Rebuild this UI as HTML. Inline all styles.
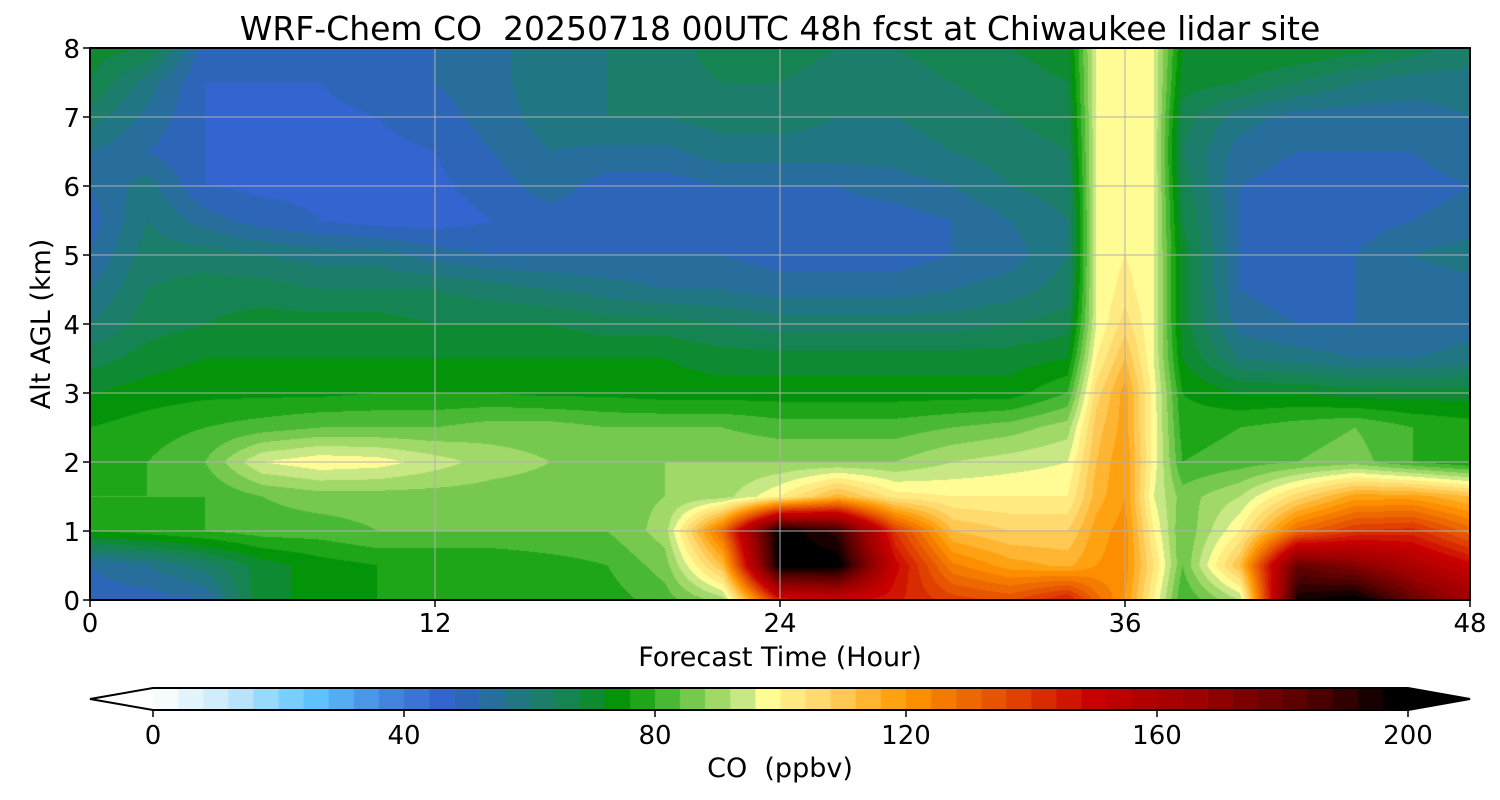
<!DOCTYPE html>
<html><head><meta charset="utf-8"><style>
body{margin:0;background:#fff;width:1500px;height:800px;overflow:hidden;font-family:"DejaVu Sans",sans-serif}
#wrap{position:relative;width:1500px;height:800px}
canvas,svg{position:absolute;left:0;top:0}
svg text{white-space:pre}
</style></head><body>
<div id="wrap">
<canvas id="cv" width="1500" height="800"></canvas>
<svg id="sv" width="1500" height="800" font-family="DejaVu Sans, sans-serif"></svg>
</div>
<script>
// ---- data ----
const times = [0,2,4,6,8,10,12,14,16,18,20,22,24,26,28,30,32,34,35,36,37,38,40,42,44,46,48];
const alts = [0,0.5,1,1.5,2,2.5,3,3.5,4,4.5,5,5.5,6,6.5,7,7.5,8];
const co_0_0 = [50,50,52,72,72,76,76,76,76,78,82,90,145,150,145,138,135,145,130,120,100,80,92,195,200,180,165];
const co_0_5 = [52,56,62,70,74,76,76,76,78,80,86,112,200,200,150,125,118,115,120,122,104,84,112,180,172,160,150];
const co_1_0 = [76,78,80,82,82,84,84,84,84,84,90,130,200,190,140,112,108,108,118,122,100,84,100,130,140,142,130];
const co_1_5 = [80,80,80,84,86,86,86,86,86,86,88,90,100,114,102,100,100,100,114,120,96,86,92,106,118,118,112];
const co_2_0 = [78,80,84,96,99,98,94,90,88,88,88,88,88,88,88,92,94,96,112,120,98,80,82,84,86,80,76];
const co_2_5 = [76,78,80,82,84,84,84,86,86,84,84,84,82,82,82,84,86,90,110,118,98,78,80,82,84,80,78];
const co_3_0 = [72,74,75,75,75,76,76,76,75,75,74,74,74,74,74,74,74,80,106,118,98,76,72,72,70,70,70];
const co_3_5 = [66,70,72,72,72,72,72,72,72,72,72,70,70,70,70,70,70,72,100,112,96,72,60,58,56,56,58];
const co_4_0 = [60,66,68,70,70,70,68,68,68,66,66,64,62,62,62,62,64,66,96,106,96,70,54,52,52,52,54];
const co_4_5 = [56,64,66,66,64,64,64,62,60,58,56,56,54,54,54,56,58,62,96,102,96,70,52,50,52,54,54];
const co_5_0 = [52,62,62,60,58,58,54,52,52,52,52,52,50,50,50,52,54,60,96,100,96,70,52,50,52,56,58];
const co_5_5 = [50,60,54,50,48,46,46,48,50,50,50,50,50,50,50,52,56,60,96,100,96,68,52,50,50,52,54];
const co_6_0 = [52,58,48,47,47,46,47,50,54,50,50,52,52,52,54,56,60,62,96,100,96,66,52,50,50,50,52];
const co_6_5 = [56,52,48,47,47,47,48,52,56,55,55,58,58,58,58,60,62,64,96,100,96,64,54,52,52,52,55];
const co_7_0 = [62,55,48,47,47,48,50,54,58,60,60,62,62,60,60,62,64,66,96,100,96,66,58,54,54,54,56];
const co_7_5 = [68,58,48,48,48,50,52,55,58,60,62,64,64,62,62,64,66,68,96,100,96,70,68,64,60,58,58];
const co_8_0 = [70,68,50,48,48,50,52,55,58,60,62,66,66,64,64,66,68,70,96,100,96,72,72,72,70,66,62];
const grid = [co_0_0,co_0_5,co_1_0,co_1_5,co_2_0,co_2_5,co_3_0,co_3_5,co_4_0,co_4_5,co_5_0,co_5_5,co_6_0,co_6_5,co_7_0,co_7_5,co_8_0];
const xTicks = [0,12,24,36,48];
const yTicks = [0,1,2,3,4,5,6,7,8];
const cbTicks = [0,40,80,120,160,200];

// ---- layout ----
const X0=90,X1=1470,Y0=600,Y1=48;
const xs = t => X0+(t/48)*(X1-X0);
const ys = a => Y0-(a/8)*(Y0-Y1);
const CB0=153,CB1=1408,CBY=688,CBH=22;
const cbx = v => CB0+(v/200)*(CB1-CB0);

const stops=[[0,[255,255,255]],[12,[200,232,250]],[25,[96,200,255]],[36,[70,140,225]],[47,[50,96,205]],[58,[32,118,130]],[68,[20,135,70]],[75,[0,150,0]],[80,[50,175,40]],[88,[140,210,90]],[95,[210,235,140]],[98,[255,252,150]],[108,[255,210,100]],[120,[255,152,0]],[135,[230,80,0]],[150,[200,0,0]],[168,[150,0,0]],[185,[80,0,0]],[198,[0,0,0]],[200,[0,0,0]]];
function cmap(v){
  v=Math.max(0,Math.min(200,v));
  for(let i=1;i<stops.length;i++){
    if(v<=stops[i][0]){const a=stops[i-1],b=stops[i];const f=(v-a[0])/(b[0]-a[0]||1);
      return [0,1,2].map(k=>Math.round(a[1][k]+f*(b[1][k]-a[1][k])));}
  }
  return [0,0,0];
}
function interp(t,a){
  let i=0;while(i<times.length-2&&t>times[i+1])i++;
  let j=Math.min(Math.floor(a/0.5),alts.length-2);
  const fx=(t-times[i])/(times[i+1]-times[i]), fy=(a-alts[j])/(alts[j+1]-alts[j]);
  const v00=grid[j][i],v01=grid[j][i+1],v10=grid[j+1][i],v11=grid[j+1][i+1];
  return (v00*(1-fx)+v01*fx)*(1-fy)+(v10*(1-fx)+v11*fx)*fy;
}
const cv=document.getElementById('cv');const ctx=cv.getContext('2d');
const W=X1-X0,H=Y0-Y1;
const img=ctx.createImageData(W,H);
for(let py=0;py<H;py++){const a=(H-py-0.5)/H*8;
  for(let px=0;px<W;px++){const t=(px+0.5)/W*48;
    let v=interp(t,a);v=Math.floor(v/4)*4+2;
    const c=cmap(v);const o=(py*W+px)*4;img.data[o]=c[0];img.data[o+1]=c[1];img.data[o+2]=c[2];img.data[o+3]=255;}}
ctx.putImageData(img,X0,Y1);
for(let v=0;v<200;v+=4){const c=cmap(v+2);ctx.fillStyle=`rgb(${c})`;ctx.fillRect(cbx(v),CBY,cbx(v+4)-cbx(v)+0.6,CBH);}
ctx.fillStyle='#000';ctx.beginPath();ctx.moveTo(CB1,CBY);ctx.lineTo(1470,CBY+CBH/2);ctx.lineTo(CB1,CBY+CBH);ctx.fill();

const sv=document.getElementById('sv');const NS='http://www.w3.org/2000/svg';
function mk(tag,at,txt){const e=document.createElementNS(NS,tag);for(const k in at)e.setAttribute(k,at[k]);if(txt!=null)e.textContent=txt;sv.appendChild(e);return e;}
xTicks.forEach(t=>{
  if(t>0&&t<48){const g=mk('line',{x1:xs(t),x2:xs(t),y1:Y1,y2:Y0,stroke:'#b0b0b0','stroke-width':1});
  
  }
  const tk=mk('line',{x1:xs(t),x2:xs(t),y1:Y0,y2:Y0+7,stroke:'#000','stroke-width':1.5});
  
  
  const l=mk('text',{x:xs(t),y:Y0+32,'font-size':26,'text-anchor':'middle'},t);
  
  
});
yTicks.forEach(a=>{
  if(a>0&&a<8){const g=mk('line',{x1:X0,x2:X1,y1:ys(a),y2:ys(a),stroke:'#b0b0b0','stroke-width':1});
  
  }
  const tk=mk('line',{x1:X0-7,x2:X0,y1:ys(a),y2:ys(a),stroke:'#000','stroke-width':1.5});
  
  
  const l=mk('text',{x:X0-10,y:ys(a)+10,'font-size':26,'text-anchor':'end'},a);
  
  
});
const fr=mk('rect',{x:X0,y:Y1,width:W,height:H,fill:'none',stroke:'#000','stroke-width':2});


const ti=mk('text',{x:780,y:40,'font-size':33,'text-anchor':'middle'},'WRF-Chem CO  20250718 00UTC 48h fcst at Chiwaukee lidar site');


const xl=mk('text',{x:780,y:666,'font-size':27,'text-anchor':'middle'},'Forecast Time (Hour)');


const yl=mk('text',{x:50,y:324,'font-size':27,'text-anchor':'middle',transform:'rotate(-90 50 324)'},'Alt AGL (km)');


const cbo=mk('polygon',{points:`90,${CBY+CBH/2} ${CB0},${CBY} ${CB1},${CBY} 1470,${CBY+CBH/2} ${CB1},${CBY+CBH} ${CB0},${CBY+CBH}`,fill:'none',stroke:'#000','stroke-width':2});


cbTicks.forEach(v=>{
  const tk=mk('line',{x1:cbx(v),x2:cbx(v),y1:CBY+CBH,y2:CBY+CBH+7,stroke:'#000','stroke-width':1.5});
  
  
  const l=mk('text',{x:cbx(v),y:744,'font-size':26,'text-anchor':'middle'},v);
  
  
});
const cl=mk('text',{x:780,y:777,'font-size':27,'text-anchor':'middle'},'CO  (ppbv)');


</script>
</body></html>
